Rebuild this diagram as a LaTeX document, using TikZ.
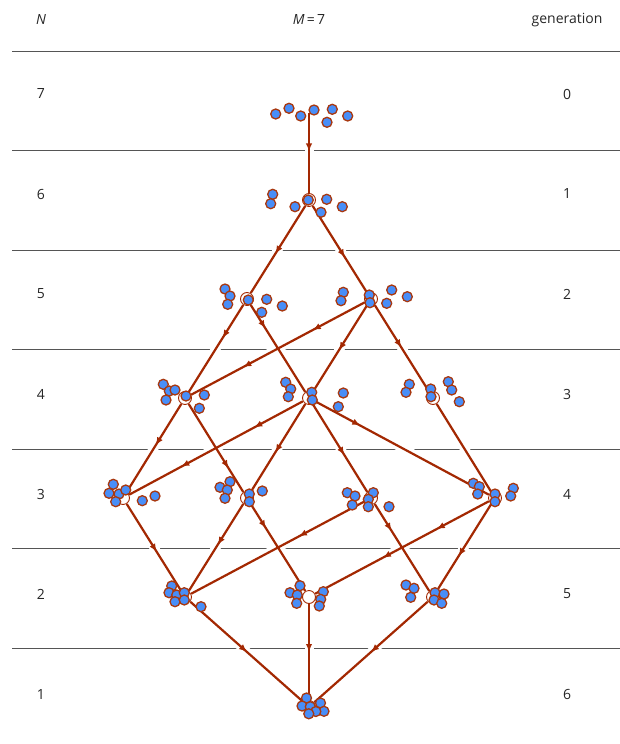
\documentclass[tikz,border=0pt]{standalone}
\usepackage{fontspec}
\setmainfont{Open Sans}
\usetikzlibrary{arrows.meta,decorations.markings}
\definecolor{edgered}{RGB}{163,40,2}
\definecolor{dotblue}{RGB}{72,142,248}
\definecolor{dotrim}{RGB}{168,56,16}
\definecolor{rulegray}{RGB}{85,85,85}
\tikzset{
  vtx/.style={circle, draw=edgered, fill=white, line width=0.9pt, minimum size=13pt, inner sep=0pt},
  halo/.style={draw=white, line width=9pt},
  edgeline/.style={draw=edgered, line width=2.2pt},
  arr/.style={postaction={decorate, decoration={markings, mark=at position #1 with {\arrow{Latex[length=8pt,width=6.5pt]}}}}},
  dot/.style={draw=dotrim, fill=dotblue, line width=1.3pt},
  lbl/.style={font=\fontsize{14}{16}\selectfont, text=black!85, inner sep=0pt},
  rule/.style={draw=rulegray, line width=1pt}
}
\begin{document}
\begin{tikzpicture}[x=1pt,y=-1pt]
\useasboundingbox (0,0) rectangle (620,744);
% header
\node[lbl] (hN) at (41,20) {\itshape N};
\node[lbl] (hM) at (309,20) {\itshape M\upshape\,=\,7};
\node[lbl] (hG) at (567,20) {generation};
% rules
\foreach \yy in {51,150.5,250,349.5,449,548.5,648}
  \draw[rule] (12,\yy) -- (620,\yy);
% row labels
\foreach \n/\g/\yy in {7/0/94,6/1/194,5/2/294,4/3/394,3/4/494,2/5/594,1/6/694}{
  \node[lbl] (n\n) at (41,\yy) {\n};
  \node[lbl] (g\g) at (567,\yy) {\g};
}
% vertices
\coordinate (a0) at (309,113);
\node[vtx] (b1) at (309,200) {};
\node[vtx] (c1) at (247,299) {};
\node[vtx] (c2) at (371,299) {};
\node[vtx] (d1) at (185,398) {};
\node[vtx] (d2) at (309,398) {};
\node[vtx] (d3) at (433,398) {};
\node[vtx] (e1) at (123,498) {};
\node[vtx] (e2) at (247,498) {};
\node[vtx] (e3) at (371,498) {};
\node[vtx] (e4) at (495,498) {};
\node[vtx] (f1) at (185,597) {};
\node[vtx] (f2) at (309,597) {};
\node[vtx] (f3) at (433,597) {};
\node[vtx] (h1) at (309,707) {};
% halos
\foreach \s/\t in {a0/b1,b1/c1,b1/c2,c1/d1,c1/d2,c2/d1,c2/d2,c2/d3,d1/e1,d1/e2,d2/e1,d2/e2,d2/e3,d2/e4,d3/e4,e1/f1,e2/f1,e2/f2,e3/f1,e3/f3,e4/f2,e4/f3,f1/h1,f2/h1,f3/h1}
  \draw[halo] (\s) -- (\t);
% edges
\draw[edgeline, arr=0.48] (a0) -- (b1);
\draw[edgeline, arr=0.55] (b1) -- (c1);
\draw[edgeline, arr=0.59] (b1) -- (c2);
\draw[edgeline, arr=0.38] (c1) -- (d1);
\draw[edgeline, arr=0.27] (c1) -- (d2);
\draw[edgeline, arr=0.30, arr=0.70] (c2) -- (d1);
\draw[edgeline, arr=0.52] (c2) -- (d2);
\draw[edgeline, arr=0.49] (c2) -- (d3);
\draw[edgeline, arr=0.47] (d1) -- (e1);
\draw[edgeline, arr=0.73] (d1) -- (e2);
\draw[edgeline, arr=0.28, arr=0.70] (d2) -- (e1);
\draw[edgeline, arr=0.55] (d2) -- (e2);
\draw[edgeline, arr=0.58] (d2) -- (e3);
\draw[edgeline, arr=0.26] (d2) -- (e4);
\draw[edgeline] (d3) -- (e4);
\draw[edgeline, arr=0.55] (e1) -- (f1);
\draw[edgeline, arr=0.47] (e2) -- (f1);
\draw[edgeline, arr=0.28] (e2) -- (f2);
\draw[edgeline, arr=0.38] (e3) -- (f1);
\draw[edgeline, arr=0.31] (e3) -- (f3);
\draw[edgeline, arr=0.30, arr=0.61] (e4) -- (f2);
\draw[edgeline, arr=0.60] (e4) -- (f3);
\draw[edgeline, arr=0.50] (f1) -- (h1);
\draw[edgeline, arr=0.50] (f2) -- (h1);
\draw[edgeline, arr=0.50] (f3) -- (h1);
% dots
\foreach \px/\py in {
  275.7/114,289/108.3,300.7/116,314/110,332.3/109.3,327/122.3,347.7/116,
  272.7/194.3,270.7/203.7,295/206.7,308.3/200,326.7/199.3,321/212.3,342.3/206.7,
  225/289,230/296,227.7/304.3,248.3/300,266.7/299.3,261.7/312.3,282.3/306,
  343.3/292.3,341/300.7,369.3/295,370/302.7,391.7/290,386.7/303.3,407.3/296.7,
  163.3/384.3,169.3/391,175/390,166/400,186/396,204.3/395,199.3/408.3,
  285.7/382.3,290.7/389,288.3/396.7,311.7/392.3,312.3/400,343.3/393,338.3/406.7,
  409.3/384.3,406/392.3,430.7/389,431/396.7,448.3/381.7,451.7/390,459.3/401.7,
  113.3/484.3,109/493.3,119/494,125.7/490,115.7/501.7,142.3/500.7,155/496,
  220/487.3,230/481.7,227.3/490,225/498.3,249.3/494,249.3/501.7,262.3/491,
  347.3/492.7,355/496,352.3/505,373.3/492.7,368.3/499.3,368.3/506.7,389/506.7,
  473.3/483.3,479.3/486.7,477.7/494,495/494,495/501.7,513.3/488.3,510.7/496,
  171.7/586,169/592.7,176.7/595,175/601.7,184.3/592.7,184.3/600,201/606.7,
  300/585.7,290/592.7,297.3/595,296.7/603.3,323.3/591.7,320.7/599.3,319.3/606,
  406/585,414/588.3,410.7/597.3,435/592.7,444/594,434/600,441.7/603.3,
  306.5/698,302/706,310.3/706.7,320.5/703,324/711.3,315.8/711.5,308.8/713.8}
  \draw[dot] (\px,\py) circle (5);
\end{tikzpicture}
\end{document}
